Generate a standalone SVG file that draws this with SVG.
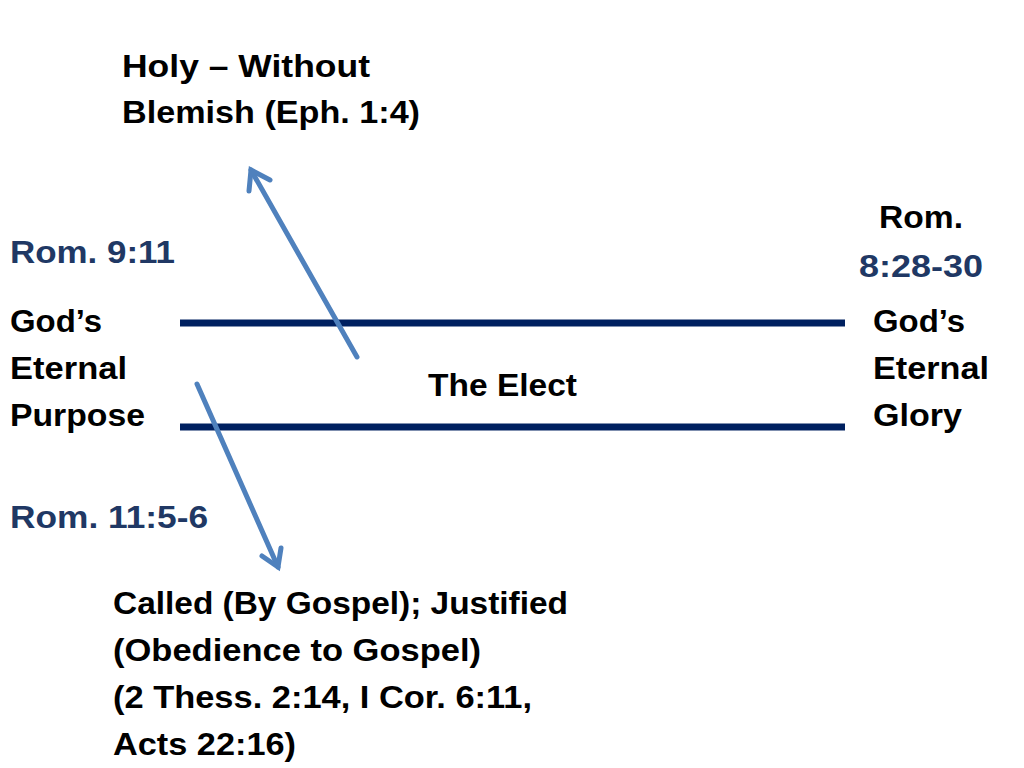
<svg xmlns="http://www.w3.org/2000/svg" width="1024" height="768" viewBox="0 0 1024 768">
<style>
text{font-family:"Liberation Sans",Arial,sans-serif;font-weight:bold;font-size:32px;fill:#000}
.n{fill:#203864}
.bar{stroke:#002060;stroke-width:7}
.ar{stroke:#4f81bd;stroke-width:5;fill:none;stroke-linecap:round}
</style>
<rect width="1024" height="768" fill="#fff"/>
<g id="connectors">
<line class="bar" x1="180" y1="323" x2="845" y2="323"/>
<line class="bar" x1="180" y1="427" x2="845" y2="427"/>
<line class="ar" x1="357" y1="357" x2="251" y2="170"/>
<polyline class="ar" points="249,191 251,170 270,180"/>
<line class="ar" x1="197" y1="384" x2="278" y2="567"/>
<polyline class="ar" points="262,556 278,567 281,548"/>
</g>
<g id="holy"><text x="122" y="77" textLength="248" lengthAdjust="spacingAndGlyphs">Holy – Without</text><text x="122" y="123" textLength="298" lengthAdjust="spacingAndGlyphs">Blemish (Eph. 1:4)</text></g>
<g id="rom911"><text class="n" x="10" y="263" textLength="165" lengthAdjust="spacingAndGlyphs">Rom. 9:11</text></g>
<g id="purpose"><text x="10" y="332" textLength="92" lengthAdjust="spacingAndGlyphs">God’s</text><text x="10" y="379" textLength="117" lengthAdjust="spacingAndGlyphs">Eternal</text><text x="10" y="426" textLength="135" lengthAdjust="spacingAndGlyphs">Purpose</text></g>
<g id="elect"><text x="428" y="396" textLength="149" lengthAdjust="spacingAndGlyphs">The Elect</text></g>
<g id="rom828"><text x="879" y="228" textLength="84" lengthAdjust="spacingAndGlyphs">Rom.</text><text class="n" x="859" y="277" textLength="124" lengthAdjust="spacingAndGlyphs">8:28-30</text></g>
<g id="glory"><text x="873" y="332" textLength="92" lengthAdjust="spacingAndGlyphs">God’s</text><text x="873" y="379" textLength="116" lengthAdjust="spacingAndGlyphs">Eternal</text><text x="873" y="426" textLength="89" lengthAdjust="spacingAndGlyphs">Glory</text></g>
<g id="rom1156"><text class="n" x="10" y="528" textLength="198" lengthAdjust="spacingAndGlyphs">Rom. 11:5-6</text></g>
<g id="called"><text x="113" y="614" textLength="455" lengthAdjust="spacingAndGlyphs">Called (By Gospel); Justified</text><text x="113" y="661" textLength="368" lengthAdjust="spacingAndGlyphs">(Obedience to Gospel)</text><text x="113" y="708" textLength="419" lengthAdjust="spacingAndGlyphs">(2 Thess. 2:14, I Cor. 6:11,</text><text x="113" y="755" textLength="183" lengthAdjust="spacingAndGlyphs">Acts 22:16)</text></g>
</svg>
